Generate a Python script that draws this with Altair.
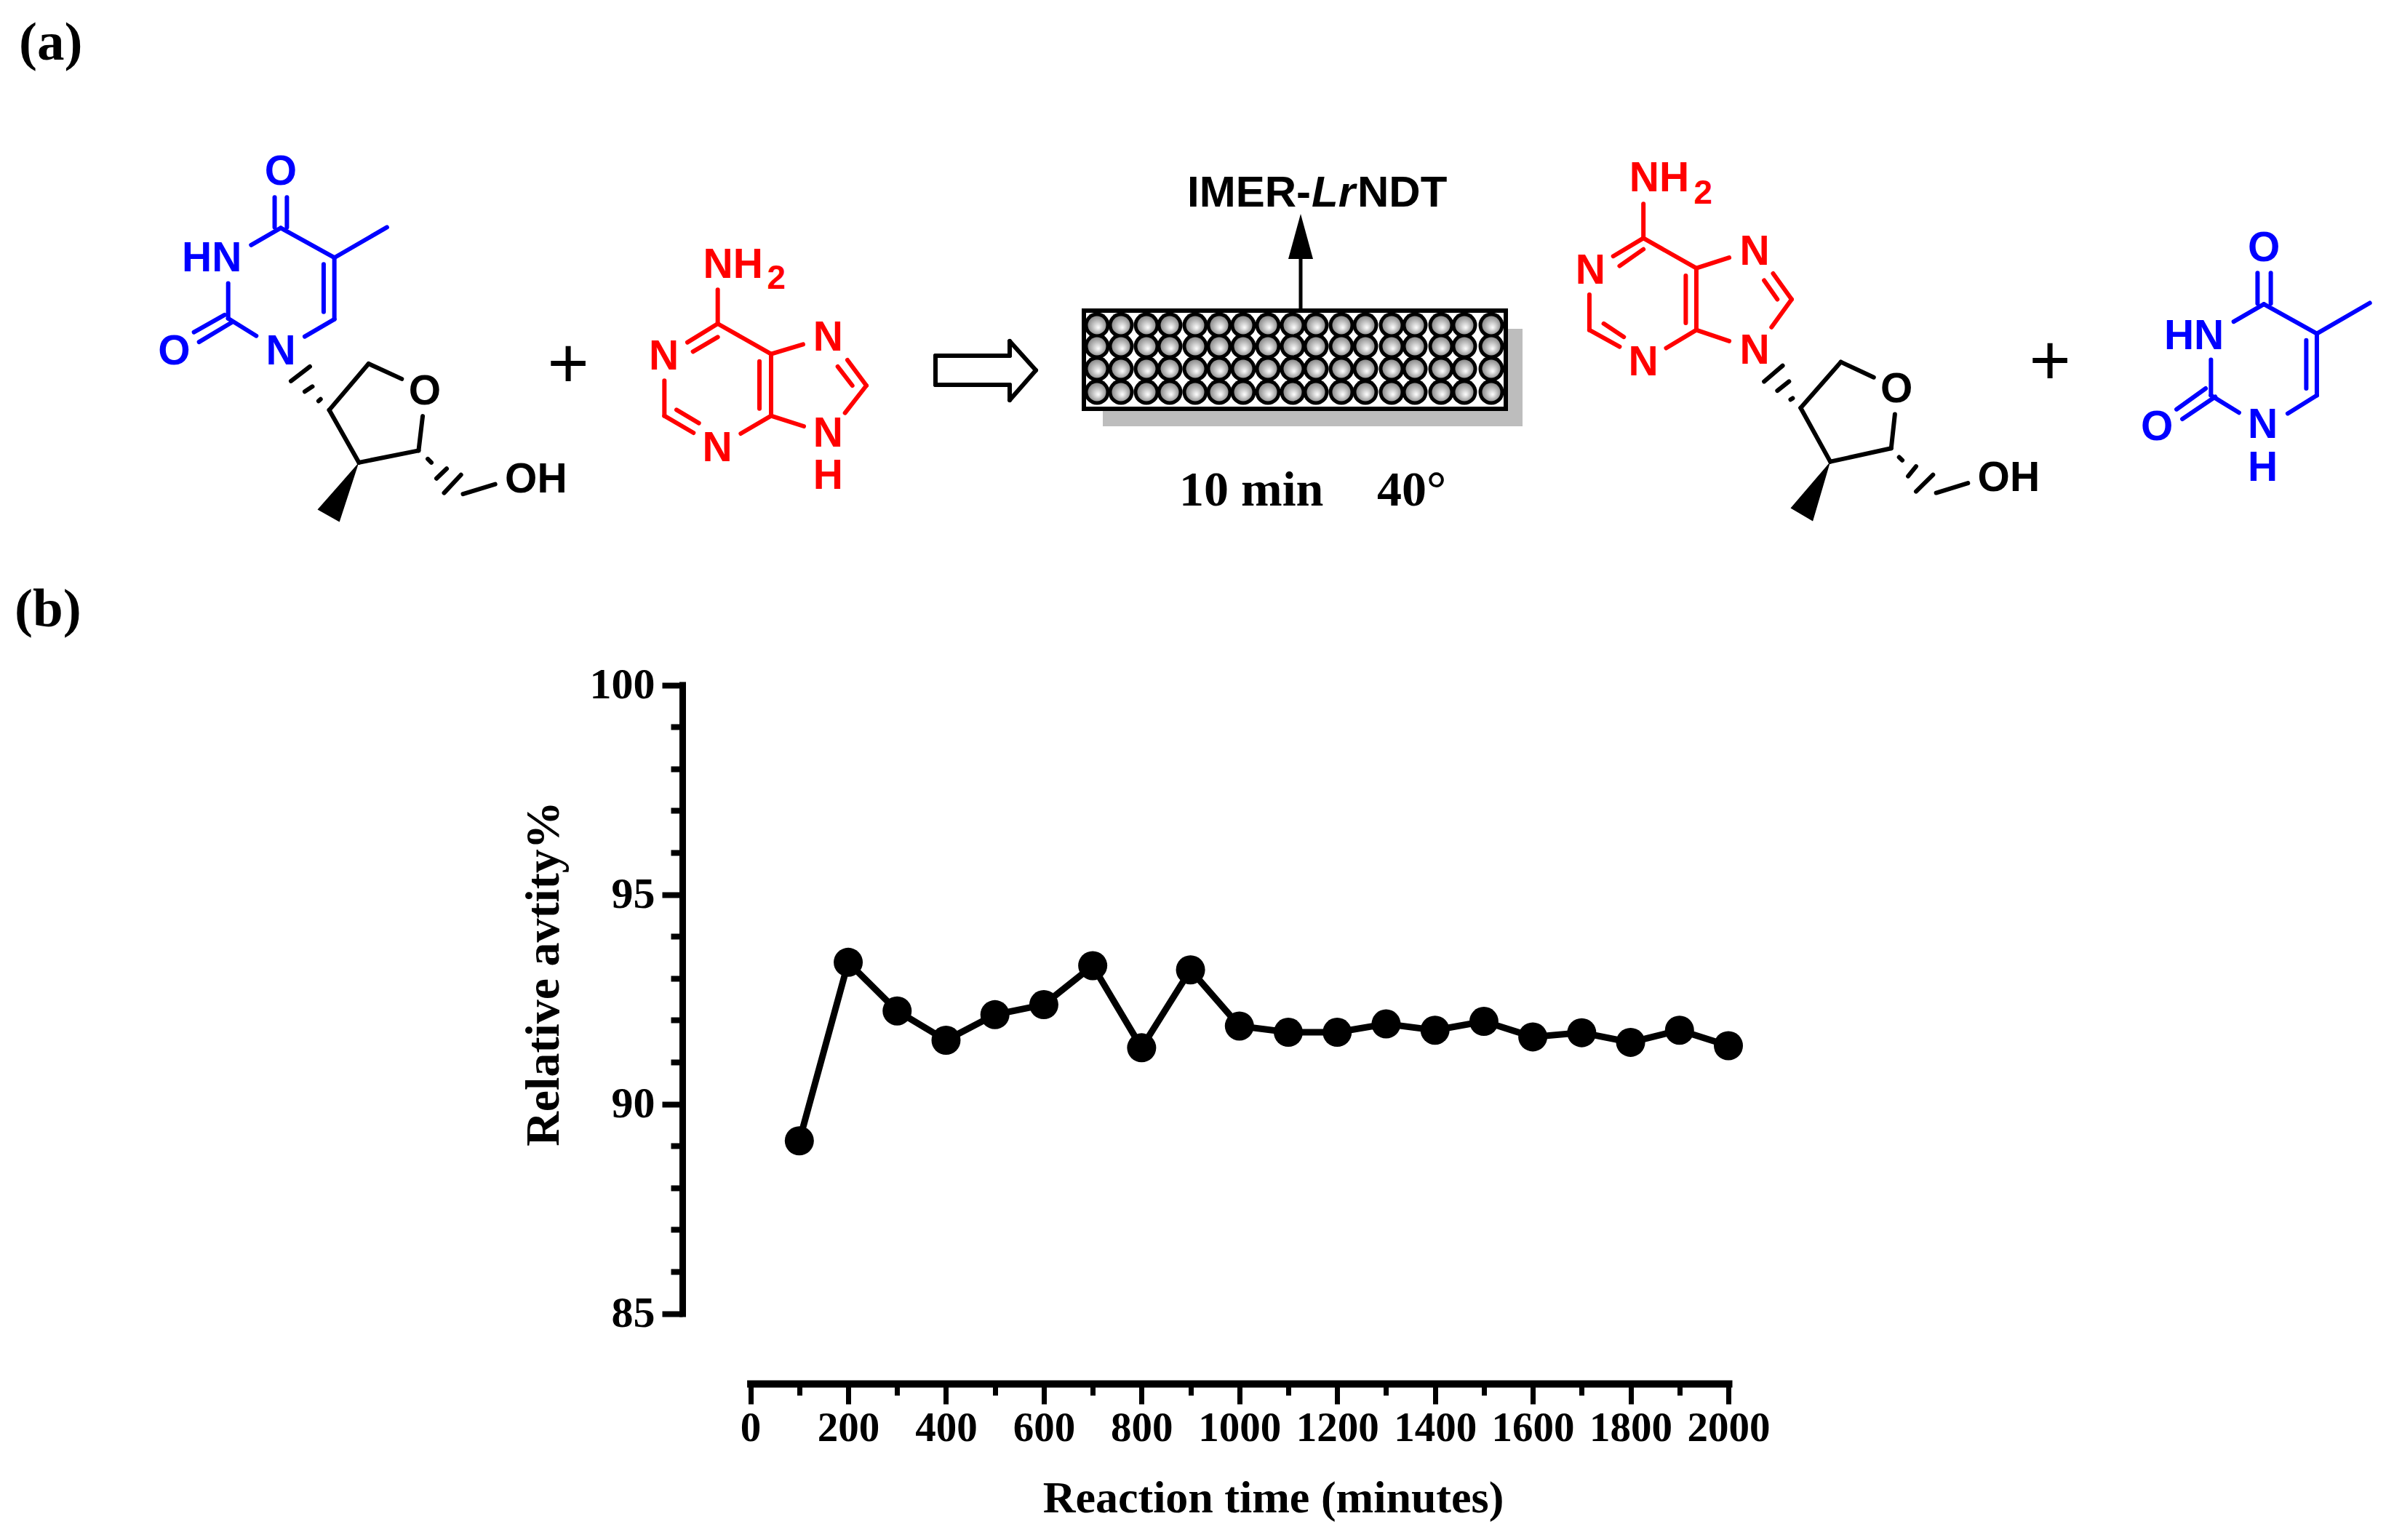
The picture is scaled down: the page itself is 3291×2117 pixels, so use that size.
import altair as alt
import pandas as pd

# panel (b) values
TIME = [100, 200, 300, 400, 500, 600, 700, 800, 900, 1000,
        1100, 1200, 1300, 1400, 1500, 1600, 1700, 1800, 1900, 2000]
ACTIVITY = [89.12, 93.38, 92.22, 91.52, 92.13, 92.37, 93.3, 91.34, 93.2, 91.86,
            91.71, 91.71, 91.91, 91.76, 91.97, 91.6, 91.7, 91.47, 91.76, 91.39]
X_TICKS = list(range(0, 2001, 100))
Y_TICKS = list(range(85, 101))

# panel (a) scheme, traced in crop units: (x1, y1, x2, y2)
LEFT_BLUE = [
    (538, 545, 538, 628), (562, 545, 562, 628), (550, 630, 492, 677),
    (550, 630, 655, 712), (655, 712, 758, 628), (655, 712, 655, 882),
    (634, 730, 634, 862), (655, 882, 597, 930), (502, 928, 447, 880),
    (447, 880, 447, 783), (440, 870, 380, 918), (455, 890, 390, 945),
]
LEFT_BLACK = [
    (624, 1108, 628, 1103), (597, 1082, 612, 1068), (570, 1053, 607, 1013),
    (645, 1133, 722, 1005), (722, 1005, 787, 1047), (828, 1150, 820, 1245),
    (820, 1245, 703, 1278), (703, 1278, 645, 1133),
    (838, 1268, 845, 1278), (855, 1322, 875, 1295), (870, 1362, 903, 1312),
    (907, 1365, 970, 1338),
]
MID_RED = [
    (380, 295, 380, 435), (380, 435, 255, 512), (380, 490, 278, 550),
    (160, 670, 160, 815), (160, 815, 280, 885), (210, 790, 302, 845),
    (475, 888, 600, 815), (600, 815, 600, 560), (552, 590, 552, 785),
    (600, 560, 380, 435), (600, 560, 732, 520), (915, 585, 993, 690),
    (875, 612, 935, 690), (993, 690, 905, 803), (735, 858, 600, 815),
]
RIGHT_RED = [
    (150, 385, 150, 262), (150, 385, 93, 450), (150, 425, 105, 485),
    (48, 588, 48, 715), (48, 715, 105, 775), (75, 692, 113, 740),
    (193, 780, 250, 715), (250, 715, 250, 493), (230, 690, 230, 520),
    (250, 493, 150, 385), (250, 493, 312, 455), (395, 512, 430, 605),
    (378, 537, 403, 605), (430, 605, 392, 705), (312, 755, 250, 715),
]
RIGHT_BLACK = [
    (428, 965, 432, 960), (403, 933, 425, 900), (378, 900, 413, 843),
    (447, 995, 523, 830), (523, 830, 585, 885), (625, 1018, 618, 1140),
    (618, 1140, 503, 1188), (503, 1188, 447, 995),
    (633, 1172, 639, 1183), (650, 1240, 665, 1205), (665, 1295, 697, 1235),
    (703, 1300, 763, 1265),
]
RIGHT_BLUE = [
    (1310, 510, 1310, 620), (1335, 510, 1335, 620), (1322, 622, 1265, 685),
    (1322, 622, 1422, 728), (1422, 728, 1522, 618), (1422, 728, 1422, 950),
    (1402, 752, 1402, 925), (1422, 950, 1367, 1015), (1275, 1012, 1222, 950),
    (1222, 950, 1222, 822), (1212, 925, 1157, 1000), (1230, 955, 1168, 1035),
]
HOLLOW_ARROW = [
    (1286, 489, 1388, 489), (1388, 489, 1388, 469), (1388, 469, 1424, 509),
    (1424, 509, 1388, 550), (1388, 550, 1388, 529), (1388, 529, 1286, 529),
    (1286, 529, 1286, 489),
]
COLUMN_SHAFT = [(1788, 425, 1788, 350)]

LEFT_WEDGES = [[(703, 1278), (622, 1408), (665, 1442)]]
RIGHT_WEDGES = [[(503, 1188), (428, 1355), (470, 1402)]]
ARROW_HEAD = [[(1788, 294), (1771, 356), (1805, 356)]]

LEFT_BLUE_ATOMS = [("O", 550, 473), ("HN", 415, 712), ("O", 341, 968), ("N", 550, 968)]
LEFT_BLACK_ATOMS = [("O", 832, 1080), ("OH", 1050, 1323)]
MID_RED_ATOMS = [("NH", 443, 190), ("N", 158, 567), ("N", 378, 945),
                 ("N", 835, 886), ("H", 835, 1060)]
MID_RED_UPPER = [("N", 835, 490)]
MID_RED_SUB = [("2", 622, 244)]
RIGHT_RED_ATOMS = [("NH", 180, 167), ("N", 50, 498), ("N", 150, 828),
                   ("N", 360, 430), ("N", 360, 787)]
RIGHT_RED_SUB = [("2", 263, 220)]
RIGHT_BLACK_ATOMS = [("O", 628, 925), ("OH", 840, 1243)]
RIGHT_BLUE_ATOMS = [("O", 1322, 418), ("HN", 1190, 733), ("O", 1120, 1062),
                    ("N", 1320, 1054), ("H", 1320, 1208)]
PLUS_SIGNS = [("+", 781, 502), ("+", 2818, 498)]

BEAD_COLS = [1508, 1541, 1576, 1608, 1643, 1676, 1709, 1743, 1777, 1809,
             1844, 1877, 1913, 1945, 1981, 2013, 2050]
BEAD_ROWS = [447, 476, 507, 539]

LEFT = dict(ox=0, oy=0, sx=1.425, sy=2.01)
MID = dict(ox=860, oy=300, sx=3, sy=3)
RIGHT = dict(ox=2150, oy=180, sx=1.374, sy=2.613)

W, H = 3270, 2095
PX = alt.Scale(domain=[8, W + 8], range=[0, W], nice=False, zero=False)
PY = alt.Scale(domain=[8, H + 8], range=[0, H], nice=False, zero=False)
SERIF = "Liberation Serif"
SANS = "Liberation Sans"


def place(segments, ox=0, oy=0, sx=1, sy=1):
    return pd.DataFrame(
        [(ox + a / sx, oy + b / sy, ox + c / sx, oy + d / sy) for a, b, c, d in segments],
        columns=["x", "y", "x2", "y2"],
    )


def bonds(segments, color, width=6, **where):
    return alt.Chart(place(segments, **where)).mark_rule(
        color=color, strokeWidth=width, strokeCap="round"
    ).encode(
        x=alt.X("x:Q", scale=PX, axis=None),
        x2="x2:Q",
        y=alt.Y("y:Q", scale=PY, axis=None),
        y2="y2:Q",
    )


def triangles(shapes, color="black", ox=0, oy=0, sx=1, sy=1):
    rows = []
    for i, shape in enumerate(shapes):
        a, b, c = sorted((ox + p[0] / sx, oy + p[1] / sy) for p in shape)
        mid = a[1] + (c[1] - a[1]) * (b[0] - a[0]) / (c[0] - a[0])
        rows += [(i, a[0], a[1], a[1]), (i, b[0], b[1], mid), (i, c[0], c[1], c[1])]
    df = pd.DataFrame(rows, columns=["id", "x", "y", "y2"])
    return alt.Chart(df).mark_area(color=color, opacity=1).encode(
        x=alt.X("x:Q", scale=PX, axis=None),
        y=alt.Y("y:Q", scale=PY, axis=None),
        y2="y2:Q",
        detail="id:N",
    )


def labels(items, color="black", size=57, weight="bold", font=SANS, style="normal",
           align="center", baseline="middle", ox=0, oy=0, sx=1, sy=1):
    df = pd.DataFrame(
        [(t, ox + a / sx, oy + b / sy) for t, a, b in items], columns=["t", "x", "y"]
    )
    return alt.Chart(df).mark_text(
        color=color, fontSize=size, fontWeight=weight, font=font, fontStyle=style,
        align=align, baseline=baseline, dy=2 if baseline == "middle" else 0,
    ).encode(
        x=alt.X("x:Q", scale=PX, axis=None),
        y=alt.Y("y:Q", scale=PY, axis=None),
        text="t:N",
    )


def box(x, x2, y, y2, **mark):
    df = pd.DataFrame({"x": [x], "x2": [x2], "y": [y], "y2": [y2]})
    return alt.Chart(df).mark_rect(**mark).encode(
        x=alt.X("x:Q", scale=PX, axis=None),
        x2="x2:Q",
        y=alt.Y("y:Q", scale=PY, axis=None),
        y2="y2:Q",
    )


beads = pd.DataFrame([(c, r) for r in BEAD_ROWS for c in BEAD_COLS], columns=["x", "y"])
bead_base = alt.Chart(beads).encode(
    x=alt.X("x:Q", scale=PX, axis=None), y=alt.Y("y:Q", scale=PY, axis=None)
)
bead_fill = alt.Gradient(
    gradient="radial", x1=0.58, y1=0.64, r1=0, x2=0.5, y2=0.5, r2=0.62,
    stops=[alt.GradientStop(offset=0, color="#ffffff"),
           alt.GradientStop(offset=1, color="#767676")],
)

diagram = alt.layer(
    box(1516, 2093, 452, 586, fill="#bdbdbd"),
    box(1490, 2070, 427, 562, fill="white", stroke="black", strokeWidth=6),
    bead_base.mark_circle(size=1225, color="black", opacity=1),
    bead_base.mark_circle(size=625, color=bead_fill, opacity=1),
    bonds(COLUMN_SHAFT, "black", width=5),
    triangles(ARROW_HEAD),
    bonds(HOLLOW_ARROW, "black", width=6),
    bonds(LEFT_BLUE, "#0000ff", **LEFT),
    bonds(LEFT_BLACK, "black", **LEFT),
    bonds(MID_RED, "#ff0000", **MID),
    bonds(RIGHT_RED, "#ff0000", **RIGHT),
    bonds(RIGHT_BLACK, "black", **RIGHT),
    bonds(RIGHT_BLUE, "#0000ff", **RIGHT),
    triangles(LEFT_WEDGES, **LEFT),
    triangles(RIGHT_WEDGES, **RIGHT),
    labels(LEFT_BLUE_ATOMS, "#0000ff", **LEFT),
    labels(LEFT_BLACK_ATOMS, "black", **LEFT),
    labels(MID_RED_ATOMS + MID_RED_UPPER, "#ff0000", **MID),
    labels(MID_RED_SUB, "#ff0000", size=46, **MID),
    labels(RIGHT_RED_ATOMS, "#ff0000", **RIGHT),
    labels(RIGHT_RED_SUB, "#ff0000", size=46, **RIGHT),
    labels(RIGHT_BLACK_ATOMS, "black", **RIGHT),
    labels(RIGHT_BLUE_ATOMS, "#0000ff", **RIGHT),
    labels(PLUS_SIGNS, "black", size=98, weight="normal"),
    labels([("IMER-", 1632, 284)], size=60, align="left", baseline="alphabetic"),
    labels([("Lr", 1803, 284)], size=60, style="italic", align="left", baseline="alphabetic"),
    labels([("NDT", 1866, 284)], size=60, align="left", baseline="alphabetic"),
    labels([("10 min", 1621, 695), ("40°", 1893, 695)], size=68, font=SERIF,
           align="left", baseline="alphabetic"),
    labels([("(a)", 26, 82), ("(b)", 20, 861)], size=75, font=SERIF,
           align="left", baseline="alphabetic"),
)

# panel (b) sits inside the page, so its scales get explicit ranges
source = pd.DataFrame({"time": TIME, "activity": ACTIVITY})
x_enc = alt.X(
    "time:Q",
    scale=alt.Scale(domain=[0, 2000], range=[1023.6, 2368], nice=False),
    axis=alt.Axis(
        values=X_TICKS, format="d", grid=False, orient="bottom", offset=-(H - 1894),
        labelExpr="datum.value % 200 == 0 ? datum.label : ''",
        labelFont=SERIF, labelFontSize=57, labelFontWeight="bold", labelColor="black",
        labelOverlap=False, labelFlush=False, labelPadding=5,
        domainColor="black", domainWidth=10, domainCap="square",
        tickColor="black", tickWidth=7,
        tickSize=alt.expr("datum.value % 200 == 0 ? 28 : 16"),
        title="Reaction time (minutes)", titleFont=SERIF, titleFontSize=62,
        titleFontWeight="bold", titleColor="black", titleX=1742, titleY=176,
        titleBaseline="alphabetic", titleAlign="center",
    ),
)
y_enc = alt.Y(
    "activity:Q",
    scale=alt.Scale(domain=[85, 100], range=[1797.6, 933.5], nice=False, zero=False),
    axis=alt.Axis(
        values=Y_TICKS, format="d", grid=False, orient="left", offset=-930,
        labelExpr="datum.value % 5 == 0 ? datum.label : ''",
        labelFont=SERIF, labelFontSize=60, labelFontWeight="bold", labelColor="black",
        labelOverlap=False, labelFlush=False, labelPadding=10,
        domainColor="black", domainWidth=9, domainCap="square",
        tickColor="black", tickWidth=8,
        tickSize=alt.expr("datum.value % 5 == 0 ? 28 : 16"),
        title="Relative avtity%", titleFont=SERIF, titleFontSize=66,
        titleFontWeight="bold", titleColor="black", titleX=-171, titleY=1330,
        titleBaseline="alphabetic", titleAlign="center", titleAngle=270,
    ),
)
base = alt.Chart(source).encode(x=x_enc, y=y_enc)
series = alt.layer(
    base.mark_line(color="black", strokeWidth=9),
    base.mark_circle(size=1600, color="black", opacity=1),
)

chart = (
    alt.layer(diagram, series)
    .resolve_scale(x="independent", y="independent")
    .properties(
        width=W, height=H, padding=0, background="white",
        autosize=alt.AutoSizeParams(type="none"),
    )
    .configure_view(strokeWidth=0)
)

chart.save("out.html", embed_options={"renderer": "svg", "actions": False})
